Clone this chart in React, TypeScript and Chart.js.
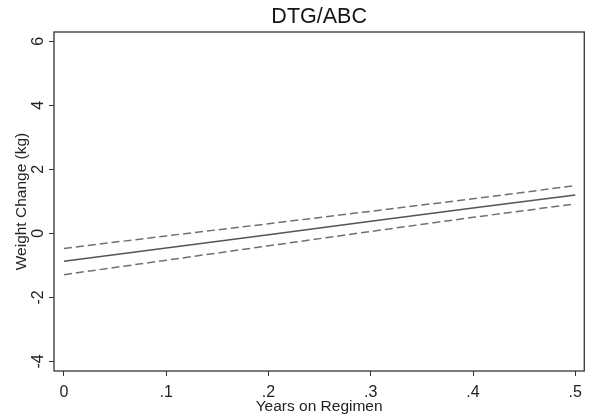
import React, { useEffect, useRef } from "react";
import { Chart, registerables } from "chart.js";

Chart.register(...registerables);

const xValues = [0, 0.1, 0.2, 0.3, 0.4, 0.5];
const fitValues = [-0.87, -0.46, -0.04, 0.38, 0.79, 1.2];
const upperValues = [-0.47, -0.08, 0.3, 0.69, 1.08, 1.49];
const lowerValues = [-1.29, -0.84, -0.39, 0.06, 0.5, 0.92];
const xTicks = [0, 0.1, 0.2, 0.3, 0.4, 0.5];
const xTickLabels = ["0", ".1", ".2", ".3", ".4", ".5"];
const yTicks = [-4, -2, 0, 2, 4, 6];
const yTickLabels = ["-4", "-2", "0", "2", "4", "6"];
const titleText = "DTG/ABC";
const xTitle = "Years on Regimen";
const yTitle = "Weight Change (kg)";

const FONT = "Arial, 'Liberation Sans', Helvetica, sans-serif";

const framePlugin = {
  id: "frame",
  afterDatasetsDraw(chart: any) {
    const { ctx, chartArea } = chart;
    ctx.save();
    ctx.strokeStyle = "#333";
    ctx.lineWidth = 1.3;
    ctx.strokeRect(
      chartArea.left,
      chartArea.top,
      chartArea.right - chartArea.left,
      chartArea.bottom - chartArea.top
    );
    ctx.restore();
  },
};

const plotTitlePlugin = {
  id: "plotTitle",
  afterDraw(chart: any) {
    const { ctx, chartArea } = chart;
    ctx.save();
    ctx.fillStyle = "#151515";
    ctx.font = `21.5px ${FONT}`;
    ctx.textAlign = "center";
    ctx.textBaseline = "middle";
    ctx.fillText(titleText, (chartArea.left + chartArea.right) / 2, 17.5);
    ctx.restore();
  },
};

export default function App() {
  const ref = useRef<HTMLCanvasElement | null>(null);

  useEffect(() => {
    if (!ref.current) return;
    const pts = (ys: number[]) => xValues.map((x, i) => ({ x, y: ys[i] }));
    const chart = new Chart(ref.current, {
      type: "scatter",
      data: {
        datasets: [
          {
            data: pts(upperValues),
            showLine: true,
            borderColor: "#707070",
            borderWidth: 1.5,
            borderDash: [8, 4],
            pointRadius: 0,
          },
          {
            data: pts(fitValues),
            showLine: true,
            borderColor: "#555",
            borderWidth: 1.5,
            pointRadius: 0,
          },
          {
            data: pts(lowerValues),
            showLine: true,
            borderColor: "#707070",
            borderWidth: 1.5,
            borderDash: [8, 4],
            pointRadius: 0,
          },
        ],
      },
      options: {
        responsive: false,
        animation: false,
        layout: { padding: { left: 0, right: 3, top: 32, bottom: 0 } },
        plugins: {
          legend: { display: false },
          tooltip: { enabled: false },
          title: { display: false },
        },
        scales: {
          x: {
            type: "linear",
            min: -0.00975,
            max: 0.5088,
            afterBuildTicks: (s: any) => {
              s.ticks = xTicks.map((v) => ({ value: v }));
            },
            afterFit: (s: any) => {
              s.height = 47;
            },
            ticks: {
              callback: (v: any) => {
                const i = xTicks.findIndex((t) => Math.abs(t - v) < 1e-9);
                return i >= 0 ? xTickLabels[i] : "";
              },
              color: "#222",
              font: { family: FONT, size: 16 },
              padding: 7,
              maxRotation: 0,
              minRotation: 0,
              autoSkip: false,
            },
            grid: {
              display: true,
              drawOnChartArea: false,
              drawTicks: true,
              tickLength: 5,
              color: "#333",
              lineWidth: 1,
            },
            border: { display: false },
            title: {
              display: true,
              text: xTitle,
              color: "#222",
              font: { family: FONT, size: 15.5 },
              padding: { top: 0, bottom: 2 },
            },
          },
          y: {
            type: "linear",
            min: -4.3,
            max: 6.29,
            afterBuildTicks: (s: any) => {
              s.ticks = yTicks.map((v) => ({ value: v }));
            },
            afterFit: (s: any) => {
              s.width = 54;
            },
            ticks: {
              callback: (v: any) => {
                const i = yTicks.findIndex((t) => Math.abs(t - v) < 1e-9);
                return i >= 0 ? yTickLabels[i] : "";
              },
              color: "#222",
              font: { family: FONT, size: 16 },
              padding: 3,
              minRotation: 90,
              maxRotation: 90,
              crossAlign: "center",
              autoSkip: false,
            },
            grid: {
              display: true,
              drawOnChartArea: false,
              drawTicks: true,
              tickLength: 5,
              color: "#333",
              lineWidth: 1,
            },
            border: { display: false },
            title: {
              display: true,
              text: yTitle,
              color: "#222",
              font: { family: FONT, size: 15.5 },
              padding: { top: 12, bottom: 0 },
            },
          },
        },
      },
      plugins: [framePlugin, plotTitlePlugin],
    } as any);
    return () => chart.destroy();
  }, []);

  return (
    <div style={{ position: "fixed", left: 0, top: 0, width: 589, height: 418, background: "#fff" }}>
      <canvas ref={ref} width={589} height={418} />
    </div>
  );
}
